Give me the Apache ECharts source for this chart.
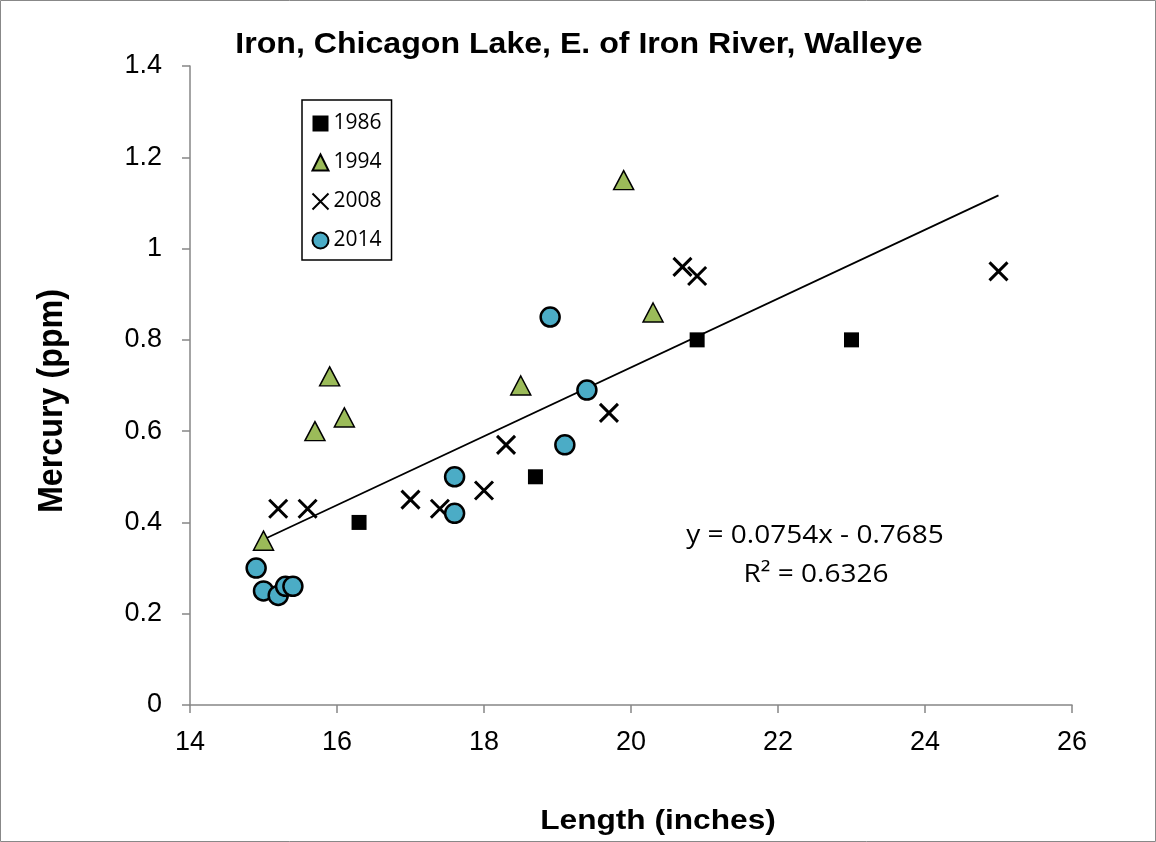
<!DOCTYPE html>
<html><head><meta charset="utf-8">
<script src="https://cdn.jsdelivr.net/npm/echarts@6/dist/echarts.min.js"></script>
<style>html,body{margin:0;padding:0;background:#fff}#c{width:1156px;height:842px}</style>
</head><body><div id="c"></div>
<script>
const title = 'Iron, Chicagon Lake, E. of Iron River, Walleye';
const xName = 'Length (inches)';
const yName = 'Mercury (ppm)';
const seriesNames = ['1986','1994','2008','2014'];
const data1986 = [[16.3,0.40],[18.7,0.50],[20.9,0.80],[23.0,0.80]];
const data1994 = [[15.0,0.36],[15.7,0.60],[15.9,0.72],[16.1,0.63],[18.5,0.70],[19.9,1.15],[20.3,0.86]];
const data2008 = [[15.2,0.43],[15.6,0.43],[17.0,0.45],[17.4,0.43],[18.0,0.47],[18.3,0.57],[19.7,0.64],[20.7,0.96],[20.9,0.94],[25.0,0.95]];
const data2014 = [[14.9,0.30],[15.0,0.25],[15.2,0.24],[15.3,0.26],[15.4,0.26],[17.6,0.50],[17.6,0.42],[18.9,0.85],[19.1,0.57],[19.4,0.69]];
const slope = 0.0754, intercept = -0.7685, r2 = 0.6326;
const trendRange = [15.0, 25.0];
const xTicks = {min:14, max:26, interval:2};
const yTicks = {min:0, max:1.4, interval:0.2};

const trend = trendRange.map(x => [x, slope*x + intercept]);
const eqText = 'y = ' + slope.toFixed(4) + 'x - ' + Math.abs(intercept).toFixed(4);
const r2Text = 'R² = ' + r2.toFixed(4);
const chart = echarts.init(document.getElementById('c'), null, {renderer:'canvas'});
const tickFont = {fontFamily:'Liberation Sans', fontSize:27, color:'#000'};
const axisGray = '#868686';
chart.setOption({
  animation:false,
  grid:{left:190, right:84, top:66, bottom:137},
  xAxis:{type:'value', min:xTicks.min, max:xTicks.max, interval:xTicks.interval,
    axisLine:{lineStyle:{color:axisGray, width:1.5}},
    axisTick:{show:true, length:8, lineStyle:{color:axisGray, width:1.5}},
    splitLine:{show:false},
    axisLabel:Object.assign({margin:24}, tickFont)},
  yAxis:{type:'value', min:yTicks.min, max:yTicks.max, interval:yTicks.interval,
    axisLine:{show:true, lineStyle:{color:axisGray, width:1.5}},
    axisTick:{show:true, length:8, lineStyle:{color:axisGray, width:1.5}},
    splitLine:{show:false},
    axisLabel:Object.assign({margin:28, formatter:v=>String(+v.toFixed(1))}, tickFont)},
  legend:{orient:'vertical', left:302, top:100, padding:[13,10,9,8],
    itemGap:18, itemWidth:16, itemHeight:16,
    borderColor:'#000', borderWidth:1.5, backgroundColor:'#fff',
    textStyle:{fontFamily:'Open Sans', fontSize:21, color:'#000'},
    data:seriesNames},
  graphic:[
    {type:'rect', shape:{x:0.5,y:0.5,width:1155,height:841}, style:{fill:'none', stroke:'#888', lineWidth:1}, silent:true},
    {type:'text', x:579, y:45, scaleX:1.07, style:{text:title, x:0, y:0, align:'center', verticalAlign:'middle', font:'bold 30px "Liberation Sans"', fill:'#000'}},
    {type:'text', x:658, y:821, scaleX:1.13, style:{text:xName, x:0, y:0, align:'center', verticalAlign:'middle', font:'bold 28px "Liberation Sans"', fill:'#000'}},
    {type:'text', x:52, y:401, rotation:Math.PI/2, scaleX:1.075, scaleY:1.15, style:{text:yName, x:0, y:0, align:'center', verticalAlign:'middle', font:'bold 30px "Liberation Sans"', fill:'#000'}},
    {type:'text', x:815, y:536, scaleX:1.12, style:{text:eqText, x:0, y:0, align:'center', verticalAlign:'middle', font:'25px "Open Sans"', fill:'#000'}},
    {type:'text', x:816, y:575, scaleX:1.12, style:{text:r2Text, x:0, y:0, align:'center', verticalAlign:'middle', font:'25px "Open Sans"', fill:'#000'}}
  ],
  series:[
    {name:'trend', type:'line', data:trend, symbol:'none', lineStyle:{color:'#000', width:1.8}, z:1, silent:true},
    {name:seriesNames[0], type:'scatter', data:data1986, symbol:'rect', symbolSize:15,
      itemStyle:{color:'#000', opacity:1}, z:3},
    {name:seriesNames[1], type:'scatter', data:data1994, symbol:'triangle', symbolSize:[20,19],
      itemStyle:{color:'#9BBB59', borderColor:'#000', borderWidth:1.5, opacity:1}, z:3},
    {name:seriesNames[2], type:'scatter', data:data2008, symbol:'path://M0 0L10 10M10 0L0 10', symbolSize:18,
      itemStyle:{color:'none', borderColor:'#000', borderWidth:3, opacity:1}, z:3},
    {name:seriesNames[3], type:'scatter', data:data2014, symbol:'circle', symbolSize:19,
      itemStyle:{color:'#4BACC6', borderColor:'#000', borderWidth:2.5, opacity:1}, z:3}
  ]
});
</script></body></html>
